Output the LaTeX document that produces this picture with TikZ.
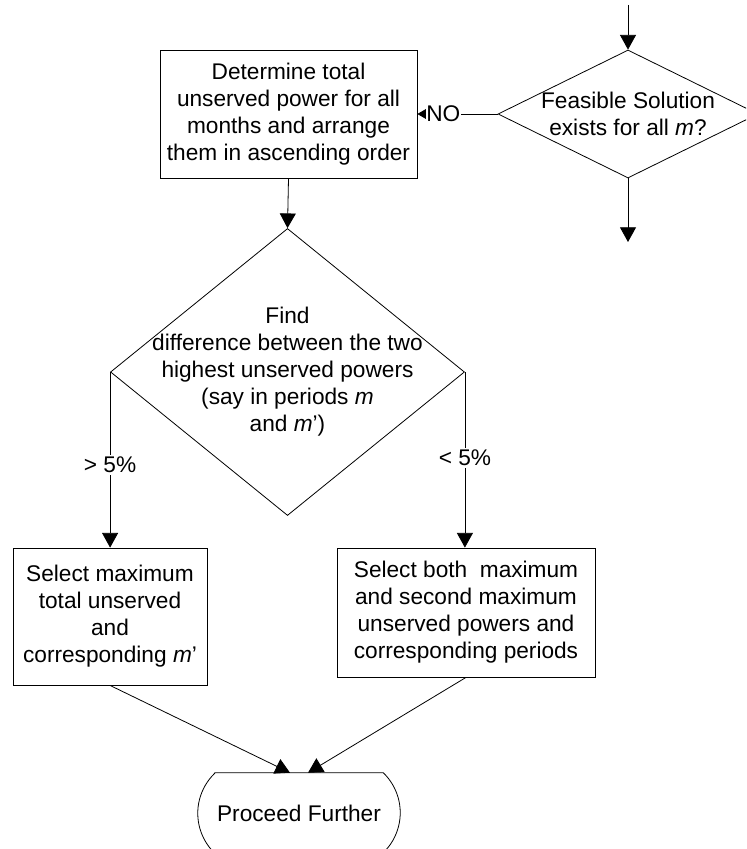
\documentclass[tikz,border=0pt]{standalone}
\usepackage{fontspec}
\setmainfont{Liberation Sans}
\usetikzlibrary{shapes.geometric,arrows.meta,calc}
\begin{document}
\begin{tikzpicture}[x=0.75pt,y=-0.75pt,
  every node/.style={font=\fontsize{17}{20.25}\selectfont},
  proc/.style={draw, line width=0.6pt, inner sep=0pt, align=center},
  decide/.style={draw, diamond, line width=0.6pt, inner sep=0pt},
  termbox/.style={inner sep=0pt},
  txt/.style={align=center, inner sep=0pt},
  lbl/.style={fill=white, inner sep=1.5pt},
  flow/.style={line width=0.6pt, -{Triangle[length=11pt,width=12pt]}},
  flowsmall/.style={line width=0.6pt, -{Triangle[length=7pt,width=8pt]}}
]
\useasboundingbox (0,0) rectangle (746,849);
\clip (0,0) rectangle (746,849);

% decision: feasibility check
\node[decide, minimum width=195pt, minimum height=96pt] (d1) at (628,114) {};
\node[txt] at (d1.center) {Feasible Solution\\exists for all \textit{m}?};

% process: sort unserved power
\node[proc, minimum width=192.75pt, minimum height=96pt] (b1) at (288.5,114)
  {Determine total\\unserved power for all\\months and arrange\\them in ascending order};

% decision: difference of the two highest
\node[decide, minimum width=265.5pt, minimum height=215.25pt] (d2) at (287.5,372) {};
\node[txt] at (d2.center) {Find\\difference between the two\\highest unserved powers\\(say in periods \textit{m}\\and \textit{m}’)};

% selections
\node[proc, minimum width=145.5pt, minimum height=102.75pt] (lb) at (110,616.5)
  {Select maximum\\total unserved\\and\\corresponding \textit{m}’};
\node[proc, minimum width=193.5pt, minimum height=96.75pt] (rb) at (466,612.5)
  {Select both\ \ maximum\\and second maximum\\unserved powers and\\corresponding periods};

% terminator: flat top and bottom, circular-arc ends
\node[termbox, minimum width=151.5pt, minimum height=60pt] (t) at (299,813) {Proceed Further};
\draw[line width=0.6pt]
  ($(t.north west)+(17,0)$) -- ($(t.north east)+(-17,0)$)
  arc[start angle=46, end angle=-46, radius=41.7pt]
  -- ($(t.south west)+(17,0)$)
  arc[start angle=226, end angle=134, radius=41.7pt]
  -- cycle;

% connectors
\coordinate (in) at (628,5);
\coordinate (out) at (628,242);
\draw[flow] (in) -- (d1.north);
\draw[flow] (d1.south) -- (out);
\draw[flowsmall] (d1.west) -- (b1.east);
\path (b1.east) ++(8,0) node[anchor=west, fill=white, inner sep=0.5pt] {NO};
\draw[flow] (b1.south) -- (d2.north);
\draw[flow] (d2.west) -- node[lbl, pos=0.53] {> 5\%} (d2.west |- lb.north);
\draw[flow] (d2.east) -- node[lbl, pos=0.49] {< 5\%} (d2.east |- rb.north);
\draw[flow] (lb.south) -- ($(t.north)+(-9,0)$);
\draw[flow] (rb.south) -- ($(t.north)+(9,0)$);
\end{tikzpicture}
\end{document}
